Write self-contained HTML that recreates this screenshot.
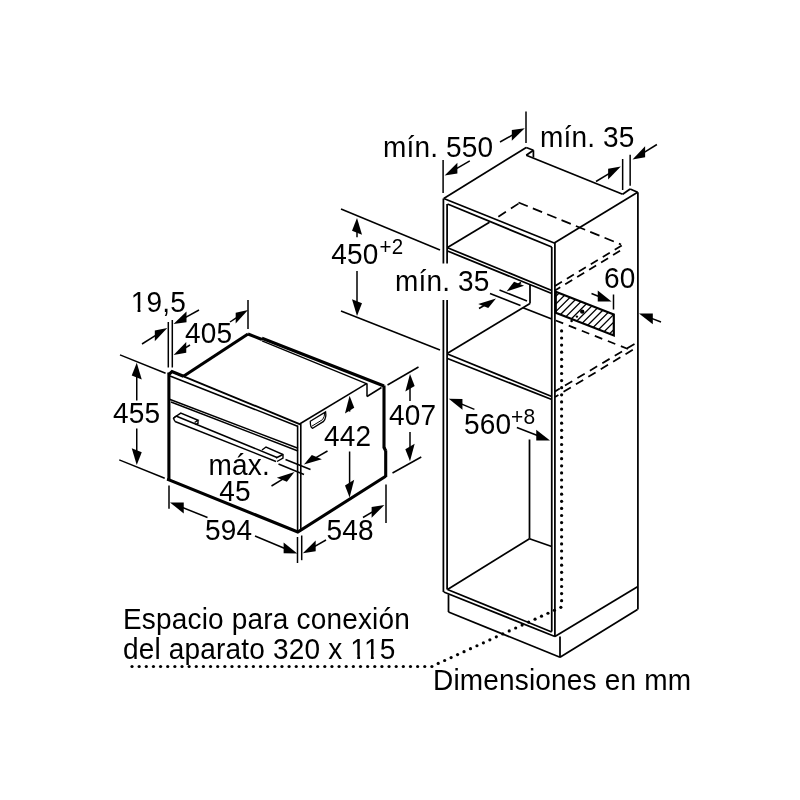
<!DOCTYPE html>
<html><head><meta charset="utf-8"><style>
html,body{margin:0;padding:0;background:#fff;width:800px;height:800px;overflow:hidden}
svg{position:absolute;left:0;top:0;will-change:transform}
text{font-family:"Liberation Sans",sans-serif;fill:#000;stroke:none;letter-spacing:0.18px}
</style></head><body>
<svg width="800" height="800" viewBox="0 0 800 800" stroke="#000" stroke-linecap="butt" fill="none">
<line x1="443.75" y1="198.5" x2="526.25" y2="147.5" stroke-width="1.75"/>
<line x1="526.25" y1="147.5" x2="533.4" y2="150.3" stroke-width="1.75"/>
<line x1="533.4" y1="150.3" x2="533.4" y2="157.5" stroke-width="1.75"/>
<line x1="533.4" y1="150.3" x2="526.25" y2="155.3" stroke-width="1.75"/>
<line x1="526.25" y1="155.3" x2="622.65" y2="194.2" stroke-width="1.75"/>
<line x1="622.65" y1="194.2" x2="630.15" y2="189" stroke-width="1.75"/>
<line x1="630.15" y1="189" x2="637.65" y2="192.3" stroke-width="1.75"/>
<line x1="554.25" y1="243" x2="637.65" y2="192.3" stroke-width="1.75"/>
<line x1="443.75" y1="198.5" x2="554.25" y2="243" stroke-width="1.75"/>
<line x1="443.4" y1="198.5" x2="443.4" y2="592" stroke-width="1.75"/>
<line x1="447.1" y1="204" x2="447.1" y2="589.5" stroke-width="1.75"/>
<line x1="447.5" y1="204" x2="551.75" y2="247" stroke-width="1.75"/>
<line x1="554.9" y1="243" x2="554.9" y2="636.5" stroke-width="1.75"/>
<line x1="551.75" y1="247" x2="551.75" y2="631.5" stroke-width="1.75"/>
<line x1="637.9" y1="192.3" x2="637.9" y2="609.5" stroke-width="1.75"/>
<line x1="447.5" y1="247.75" x2="551.75" y2="290.5" stroke-width="1.75"/>
<line x1="447.5" y1="251" x2="551.75" y2="293.5" stroke-width="1.75"/>
<line x1="447.5" y1="247.5" x2="489.5" y2="222.25" stroke-width="1.75"/>
<line x1="521" y1="202" x2="494" y2="219.5" stroke-width="1.75" stroke-dasharray="9 6" stroke-dashoffset="-3"/>
<line x1="518.5" y1="202.5" x2="621" y2="244.5" stroke-width="1.75" stroke-dasharray="10 5.5" stroke-dashoffset="0"/>
<line x1="621.75" y1="245.5" x2="555" y2="286" stroke-width="1.75" stroke-dasharray="8.2 5.8" stroke-dashoffset="0"/>
<line x1="621.75" y1="249.8" x2="555" y2="290.5" stroke-width="1.75" stroke-dasharray="8.2 5.8" stroke-dashoffset="-2"/>
<line x1="530" y1="284.7" x2="530" y2="303.5" stroke-width="1.75"/>
<line x1="530" y1="303.5" x2="447.5" y2="353.25" stroke-width="1.75"/>
<line x1="523" y1="307.8" x2="551.75" y2="319" stroke-width="1.75"/>
<line x1="555.75" y1="320.5" x2="628" y2="349" stroke-width="1.75" stroke-dasharray="8 6" stroke-dashoffset="0"/>
<line x1="634.5" y1="344" x2="555" y2="391.5" stroke-width="1.75" stroke-dasharray="8.5 6" stroke-dashoffset="0"/>
<line x1="634.5" y1="348.8" x2="555" y2="397" stroke-width="1.75" stroke-dasharray="8.5 6" stroke-dashoffset="-2"/>
<line x1="447.5" y1="354" x2="551.75" y2="396.5" stroke-width="1.75"/>
<line x1="447.5" y1="358.5" x2="551.75" y2="399.5" stroke-width="1.75"/>
<defs><clipPath id="hc"><path d="M555.75 291.75 L613.5 314.25 L613.5 335.25 L555.75 312.75 Z"/></clipPath></defs>
<path d="M454.0 345 L514.0 285 M461.6 345 L521.6 285 M469.2 345 L529.2 285 M476.8 345 L536.8 285 M484.4 345 L544.4 285 M492.0 345 L552.0 285 M499.6 345 L559.6 285 M507.2 345 L567.2 285 M514.8 345 L574.8 285 M522.4 345 L582.4 285 M530.0 345 L590.0 285 M537.6 345 L597.6 285 M545.2 345 L605.2 285 M552.8 345 L612.8 285 M560.4 345 L620.4 285 M568.0 345 L628.0 285 M575.6 345 L635.6 285 M583.2 345 L643.2 285 M590.8 345 L650.8 285 M598.4 345 L658.4 285 M606.0 345 L666.0 285 M613.6 345 L673.6 285 M621.2 345 L681.2 285 M628.8 345 L688.8 285 M636.4 345 L696.4 285 M644.0 345 L704.0 285 M651.6 345 L711.6 285 M659.2 345 L719.2 285 M666.8 345 L726.8 285 M674.4 345 L734.4 285 M682.0 345 L742.0 285 M689.6 345 L749.6 285 M697.2 345 L757.2 285 M704.8 345 L764.8 285 M712.4 345 L772.4 285 M720.0 345 L780.0 285 M727.6 345 L787.6 285 M735.2 345 L795.2 285 M742.8 345 L802.8 285 M750.4 345 L810.4 285 M758.0 345 L818.0 285 M765.6 345 L825.6 285 M773.2 345 L833.2 285 M780.8 345 L840.8 285 M788.4 345 L848.4 285 M796.0 345 L856.0 285 M803.5999999999999 345 L863.5999999999999 285 M811.2 345 L871.2 285 M818.8 345 L878.8 285 M826.4 345 L886.4 285 " clip-path="url(#hc)" fill="none" stroke-width="1.3"/>
<path d="M555.75 291.75 L613.8 314.5 L613.8 335.5 L555.75 312.75 Z" fill="none" stroke-width="2.2"/>
<circle cx="582.2" cy="311.6" r="2.2" fill="#000" stroke="none"/>
<circle cx="576.9" cy="316.6" r="1.2" fill="#000" stroke="none"/>
<circle cx="571.6" cy="321" r="1.3" fill="#000" stroke="none"/>
<line x1="529.5" y1="439.5" x2="529.5" y2="538.75" stroke-width="1.75"/>
<line x1="529.5" y1="538.75" x2="551.75" y2="546.5" stroke-width="1.75"/>
<line x1="529.5" y1="538.75" x2="447.5" y2="589.5" stroke-width="1.75"/>
<line x1="443.75" y1="592" x2="554.9" y2="636.5" stroke-width="1.75"/>
<line x1="447.5" y1="589.5" x2="551.75" y2="632" stroke-width="1.75"/>
<line x1="448.5" y1="594.5" x2="448.5" y2="612" stroke-width="1.75"/>
<line x1="448.5" y1="612" x2="560" y2="657.25" stroke-width="1.75"/>
<line x1="560" y1="636.5" x2="560" y2="657.25" stroke-width="1.75"/>
<line x1="554.9" y1="636.5" x2="637.5" y2="586.75" stroke-width="1.75"/>
<line x1="560" y1="657.25" x2="637.5" y2="609.5" stroke-width="1.75"/>
<circle cx="561.60" cy="330.90" r="1.6" fill="#000" stroke="none"/>
<circle cx="561.60" cy="338.00" r="1.6" fill="#000" stroke="none"/>
<circle cx="561.60" cy="345.10" r="1.6" fill="#000" stroke="none"/>
<circle cx="561.60" cy="352.20" r="1.6" fill="#000" stroke="none"/>
<circle cx="561.60" cy="359.30" r="1.6" fill="#000" stroke="none"/>
<circle cx="561.60" cy="366.40" r="1.6" fill="#000" stroke="none"/>
<circle cx="561.60" cy="373.50" r="1.6" fill="#000" stroke="none"/>
<circle cx="561.60" cy="380.60" r="1.6" fill="#000" stroke="none"/>
<circle cx="561.60" cy="387.70" r="1.6" fill="#000" stroke="none"/>
<circle cx="561.60" cy="394.80" r="1.6" fill="#000" stroke="none"/>
<circle cx="561.60" cy="401.90" r="1.6" fill="#000" stroke="none"/>
<circle cx="561.60" cy="409.00" r="1.6" fill="#000" stroke="none"/>
<circle cx="561.60" cy="416.10" r="1.6" fill="#000" stroke="none"/>
<circle cx="561.60" cy="423.20" r="1.6" fill="#000" stroke="none"/>
<circle cx="561.60" cy="430.30" r="1.6" fill="#000" stroke="none"/>
<circle cx="561.60" cy="437.40" r="1.6" fill="#000" stroke="none"/>
<circle cx="561.60" cy="444.50" r="1.6" fill="#000" stroke="none"/>
<circle cx="561.60" cy="451.60" r="1.6" fill="#000" stroke="none"/>
<circle cx="561.60" cy="458.70" r="1.6" fill="#000" stroke="none"/>
<circle cx="561.60" cy="465.80" r="1.6" fill="#000" stroke="none"/>
<circle cx="561.60" cy="472.90" r="1.6" fill="#000" stroke="none"/>
<circle cx="561.60" cy="480.00" r="1.6" fill="#000" stroke="none"/>
<circle cx="561.60" cy="487.10" r="1.6" fill="#000" stroke="none"/>
<circle cx="561.60" cy="494.20" r="1.6" fill="#000" stroke="none"/>
<circle cx="561.60" cy="501.30" r="1.6" fill="#000" stroke="none"/>
<circle cx="561.60" cy="508.40" r="1.6" fill="#000" stroke="none"/>
<circle cx="561.60" cy="515.50" r="1.6" fill="#000" stroke="none"/>
<circle cx="561.60" cy="522.60" r="1.6" fill="#000" stroke="none"/>
<circle cx="561.60" cy="529.70" r="1.6" fill="#000" stroke="none"/>
<circle cx="561.60" cy="536.80" r="1.6" fill="#000" stroke="none"/>
<circle cx="561.60" cy="543.90" r="1.6" fill="#000" stroke="none"/>
<circle cx="561.60" cy="551.00" r="1.6" fill="#000" stroke="none"/>
<circle cx="561.60" cy="558.10" r="1.6" fill="#000" stroke="none"/>
<circle cx="561.60" cy="565.20" r="1.6" fill="#000" stroke="none"/>
<circle cx="561.60" cy="572.30" r="1.6" fill="#000" stroke="none"/>
<circle cx="561.60" cy="579.40" r="1.6" fill="#000" stroke="none"/>
<circle cx="561.60" cy="586.50" r="1.6" fill="#000" stroke="none"/>
<circle cx="561.60" cy="593.60" r="1.6" fill="#000" stroke="none"/>
<circle cx="561.60" cy="600.70" r="1.6" fill="#000" stroke="none"/>
<circle cx="560.87" cy="607.33" r="1.6" fill="#000" stroke="none"/>
<circle cx="554.42" cy="610.29" r="1.6" fill="#000" stroke="none"/>
<circle cx="547.96" cy="613.24" r="1.6" fill="#000" stroke="none"/>
<circle cx="541.50" cy="616.19" r="1.6" fill="#000" stroke="none"/>
<circle cx="535.05" cy="619.15" r="1.6" fill="#000" stroke="none"/>
<circle cx="528.59" cy="622.10" r="1.6" fill="#000" stroke="none"/>
<circle cx="522.13" cy="625.06" r="1.6" fill="#000" stroke="none"/>
<circle cx="515.68" cy="628.01" r="1.6" fill="#000" stroke="none"/>
<circle cx="509.22" cy="630.96" r="1.6" fill="#000" stroke="none"/>
<circle cx="502.76" cy="633.92" r="1.6" fill="#000" stroke="none"/>
<circle cx="496.31" cy="636.87" r="1.6" fill="#000" stroke="none"/>
<circle cx="489.85" cy="639.82" r="1.6" fill="#000" stroke="none"/>
<circle cx="483.40" cy="642.78" r="1.6" fill="#000" stroke="none"/>
<circle cx="476.94" cy="645.73" r="1.6" fill="#000" stroke="none"/>
<circle cx="470.48" cy="648.69" r="1.6" fill="#000" stroke="none"/>
<circle cx="464.03" cy="651.64" r="1.6" fill="#000" stroke="none"/>
<circle cx="457.57" cy="654.59" r="1.6" fill="#000" stroke="none"/>
<circle cx="451.11" cy="657.55" r="1.6" fill="#000" stroke="none"/>
<circle cx="444.66" cy="660.50" r="1.6" fill="#000" stroke="none"/>
<circle cx="438.20" cy="663.45" r="1.6" fill="#000" stroke="none"/>
<circle cx="431.90" cy="666.50" r="1.6" fill="#000" stroke="none"/>
<circle cx="424.76" cy="666.50" r="1.6" fill="#000" stroke="none"/>
<circle cx="417.62" cy="666.50" r="1.6" fill="#000" stroke="none"/>
<circle cx="410.48" cy="666.50" r="1.6" fill="#000" stroke="none"/>
<circle cx="403.34" cy="666.50" r="1.6" fill="#000" stroke="none"/>
<circle cx="396.20" cy="666.50" r="1.6" fill="#000" stroke="none"/>
<circle cx="389.06" cy="666.50" r="1.6" fill="#000" stroke="none"/>
<circle cx="381.92" cy="666.50" r="1.6" fill="#000" stroke="none"/>
<circle cx="374.78" cy="666.50" r="1.6" fill="#000" stroke="none"/>
<circle cx="367.64" cy="666.50" r="1.6" fill="#000" stroke="none"/>
<circle cx="360.50" cy="666.50" r="1.6" fill="#000" stroke="none"/>
<circle cx="353.36" cy="666.50" r="1.6" fill="#000" stroke="none"/>
<circle cx="346.22" cy="666.50" r="1.6" fill="#000" stroke="none"/>
<circle cx="339.08" cy="666.50" r="1.6" fill="#000" stroke="none"/>
<circle cx="331.94" cy="666.50" r="1.6" fill="#000" stroke="none"/>
<circle cx="324.80" cy="666.50" r="1.6" fill="#000" stroke="none"/>
<circle cx="317.66" cy="666.50" r="1.6" fill="#000" stroke="none"/>
<circle cx="310.52" cy="666.50" r="1.6" fill="#000" stroke="none"/>
<circle cx="303.38" cy="666.50" r="1.6" fill="#000" stroke="none"/>
<circle cx="296.24" cy="666.50" r="1.6" fill="#000" stroke="none"/>
<circle cx="289.10" cy="666.50" r="1.6" fill="#000" stroke="none"/>
<circle cx="281.96" cy="666.50" r="1.6" fill="#000" stroke="none"/>
<circle cx="274.82" cy="666.50" r="1.6" fill="#000" stroke="none"/>
<circle cx="267.68" cy="666.50" r="1.6" fill="#000" stroke="none"/>
<circle cx="260.54" cy="666.50" r="1.6" fill="#000" stroke="none"/>
<circle cx="253.40" cy="666.50" r="1.6" fill="#000" stroke="none"/>
<circle cx="246.26" cy="666.50" r="1.6" fill="#000" stroke="none"/>
<circle cx="239.12" cy="666.50" r="1.6" fill="#000" stroke="none"/>
<circle cx="231.98" cy="666.50" r="1.6" fill="#000" stroke="none"/>
<circle cx="224.84" cy="666.50" r="1.6" fill="#000" stroke="none"/>
<circle cx="217.70" cy="666.50" r="1.6" fill="#000" stroke="none"/>
<circle cx="210.56" cy="666.50" r="1.6" fill="#000" stroke="none"/>
<circle cx="203.42" cy="666.50" r="1.6" fill="#000" stroke="none"/>
<circle cx="196.28" cy="666.50" r="1.6" fill="#000" stroke="none"/>
<circle cx="189.14" cy="666.50" r="1.6" fill="#000" stroke="none"/>
<circle cx="182.00" cy="666.50" r="1.6" fill="#000" stroke="none"/>
<circle cx="174.86" cy="666.50" r="1.6" fill="#000" stroke="none"/>
<circle cx="167.72" cy="666.50" r="1.6" fill="#000" stroke="none"/>
<circle cx="160.58" cy="666.50" r="1.6" fill="#000" stroke="none"/>
<circle cx="153.44" cy="666.50" r="1.6" fill="#000" stroke="none"/>
<circle cx="146.30" cy="666.50" r="1.6" fill="#000" stroke="none"/>
<circle cx="139.16" cy="666.50" r="1.6" fill="#000" stroke="none"/>
<circle cx="132.02" cy="666.50" r="1.6" fill="#000" stroke="none"/>
<line x1="168.9" y1="372.5" x2="168.9" y2="480.5" stroke-width="3.1"/>
<path d="M168.9 478.5 L168.5 479.7 L297.8 532 L385.7 476.3" fill="none" stroke-width="3.1"/>
<line x1="297.6" y1="425.5" x2="297.6" y2="531" stroke-width="1.6"/>
<line x1="300.8" y1="424" x2="300.8" y2="530.5" stroke-width="1.6"/>
<line x1="172" y1="371.6" x2="300.8" y2="424.6" stroke-width="1.8"/>
<path d="M168.5 374.8 L172 371.6 L183.5 376.3" fill="none" stroke-width="3.1"/>
<line x1="170" y1="376" x2="297.6" y2="426.2" stroke-width="1.5"/>
<line x1="169.5" y1="399.3" x2="298" y2="448.3" stroke-width="1.5"/>
<line x1="171" y1="402" x2="298" y2="451" stroke-width="1.5"/>
<path d="M176 416 L277 457.5" fill="none" stroke-width="1.4"/>
<path d="M175 421.5 L276 461.5" fill="none" stroke-width="1.4"/>
<path d="M176 416 L173.5 418.5 L175 421.5" fill="none" stroke-width="1.4"/>
<path d="M173.5 418 L180.75 413.1 L198 420.25 L194.6 422.5" fill="none" stroke-width="1.4"/>
<path d="M198 420.25 L198 423.25 L195.5 424.6" fill="none" stroke-width="1.4"/>
<path d="M262 450 L266 447 L283 454.5 L283 458 L277 461.5" fill="none" stroke-width="1.4"/>
<line x1="276" y1="458" x2="283" y2="454.5" stroke-width="1.4"/>
<line x1="183.5" y1="376.3" x2="248" y2="334" stroke-width="3.1"/>
<line x1="248" y1="334" x2="262" y2="339.5" stroke-width="3.1"/>
<line x1="262" y1="338.3" x2="384" y2="386" stroke-width="3.1"/>
<line x1="262" y1="340.8" x2="367" y2="383.8" stroke-width="1.3"/>
<line x1="367" y1="383.6" x2="367" y2="396.5" stroke-width="1.5"/>
<line x1="367" y1="396.5" x2="381.5" y2="387.5" stroke-width="1.5"/>
<line x1="299.6" y1="424" x2="367" y2="383.4" stroke-width="1.5"/>
<line x1="384" y1="385.5" x2="384" y2="448.2" stroke-width="3.1"/>
<line x1="384" y1="447.5" x2="385.7" y2="450.8" stroke-width="3.1"/>
<line x1="385.7" y1="450.3" x2="385.7" y2="477" stroke-width="3.1"/>
<path d="M310.3 421.3 L325.6 411.9 Q326.6 418 323.6 421.4 L312.6 428.4 Q310.2 427.5 310.3 421.3 Z" fill="none" stroke-width="1.3"/>
<path d="M311.8 426.2 L322.6 419.6 Q324.8 416.5 324.6 413" fill="none" stroke-width="1"/>
<line x1="168.3" y1="322" x2="168.3" y2="367.5" stroke-width="1.5"/>
<line x1="172.3" y1="320" x2="172.3" y2="367.5" stroke-width="1.5"/>
<line x1="142" y1="344" x2="156.48180823810503" y2="334.8415441972458" stroke-width="1.5"/>
<path d="M167.30 328.00 L154.79 341.31 L154.79 330.51 Z" fill="#000" stroke="none"/>
<line x1="199" y1="310" x2="184.7202054499788" y2="317.8398872039332" stroke-width="1.5"/>
<path d="M173.50 324.00 L186.47 322.28 L186.47 311.48 Z" fill="#000" stroke="none"/>
<line x1="190" y1="345" x2="184.52859105016367" y2="348.3362249694124" stroke-width="1.5"/>
<path d="M173.60 355.00 L186.24 352.70 L186.24 341.90 Z" fill="#000" stroke="none"/>
<line x1="230" y1="322" x2="237.3497562324756" y2="317.1001625116829" stroke-width="1.5"/>
<path d="M248.00 310.00 L235.69 323.61 L235.69 312.81 Z" fill="#000" stroke="none"/>
<line x1="248" y1="300" x2="248" y2="329" stroke-width="1.5"/>
<g transform="translate(130.7 312) scale(1 1.06)"><text x="0" y="0" font-size="28" text-anchor="start">19,5</text><rect x="1.40" y="-3.3" width="5.50" height="4" fill="#fff" stroke="none"/><rect x="9.75" y="-3.3" width="5.40" height="4" fill="#fff" stroke="none"/></g>
<g transform="translate(185 343) scale(1 1.06)"><text x="0" y="0" font-size="28" text-anchor="start">405</text></g>
<line x1="120" y1="354.9" x2="165.6" y2="373.25" stroke-width="1.5"/>
<line x1="119.25" y1="459.9" x2="164.75" y2="478.25" stroke-width="1.5"/>
<line x1="136.75" y1="400.4" x2="136.75" y2="375.55" stroke-width="1.5"/>
<path d="M136.75 362.75 L141.76 379.56 L131.74 375.54 Z" fill="#000" stroke="none"/>
<line x1="136.75" y1="428.4" x2="136.75" y2="452.3" stroke-width="1.5"/>
<path d="M136.75 465.10 L141.76 452.31 L131.74 448.29 Z" fill="#000" stroke="none"/>
<g transform="translate(113 423.3) scale(1 1.06)"><text x="0" y="0" font-size="28" text-anchor="start">455</text></g>
<line x1="349.6" y1="411.6" x2="349.6" y2="408.6" stroke-width="1.5"/>
<path d="M349.60 395.80 L354.23 407.82 L344.97 413.38 Z" fill="#000" stroke="none"/>
<line x1="349.6" y1="451.5" x2="349.6" y2="484.7" stroke-width="1.5"/>
<path d="M349.60 497.50 L354.20 479.86 L345.00 485.54 Z" fill="#000" stroke="none"/>
<g transform="translate(324 445.5) scale(1 1.06)"><text x="0" y="0" font-size="28" text-anchor="start">442</text></g>
<line x1="387.5" y1="385" x2="418.5" y2="367" stroke-width="1.5"/>
<line x1="392.5" y1="473" x2="421.25" y2="457" stroke-width="1.5"/>
<line x1="410" y1="401" x2="410.0" y2="386.8" stroke-width="1.5"/>
<path d="M410.00 374.00 L414.67 386.09 L405.33 391.51 Z" fill="#000" stroke="none"/>
<line x1="410" y1="432" x2="410.0" y2="448.45" stroke-width="1.5"/>
<path d="M410.00 461.25 L414.67 443.74 L405.33 449.16 Z" fill="#000" stroke="none"/>
<g transform="translate(389 425.3) scale(1 1.06)"><text x="0" y="0" font-size="28" text-anchor="start">407</text></g>
<line x1="285.5" y1="459.5" x2="310.5" y2="469.5" stroke-width="1.5"/>
<line x1="278.5" y1="464" x2="304" y2="474.5" stroke-width="1.5"/>
<line x1="327.5" y1="451" x2="315.0989509436258" y2="458.12400690472555" stroke-width="1.5"/>
<path d="M304.00 464.50 L321.85 459.13 L311.82 455.12 Z" fill="#000" stroke="none"/>
<line x1="271.5" y1="486" x2="283.5662584881352" y2="478.6553209202655" stroke-width="1.5"/>
<path d="M294.50 472.00 L286.87 481.70 L276.84 477.69 Z" fill="#000" stroke="none"/>
<g transform="translate(208.5 474.5) scale(1 1.06)"><text x="0" y="0" font-size="28" text-anchor="start">máx.</text></g>
<g transform="translate(219.3 501.3) scale(1 1.06)"><text x="0" y="0" font-size="28" text-anchor="start">45</text></g>
<line x1="169" y1="485.5" x2="169" y2="508.75" stroke-width="1.5"/>
<line x1="207.5" y1="517.5" x2="181.8845016433313" y2="507.25380065733253" stroke-width="1.5"/>
<path d="M170.00 502.50 L183.74 513.40 L183.74 502.60 Z" fill="#000" stroke="none"/>
<line x1="255" y1="536" x2="285.4821371606573" y2="548.6828750361127" stroke-width="1.5"/>
<path d="M297.30 553.60 L283.64 553.31 L283.64 542.51 Z" fill="#000" stroke="none"/>
<g transform="translate(205 540.3) scale(1 1.06)"><text x="0" y="0" font-size="28" text-anchor="start">594</text></g>
<line x1="297.5" y1="537" x2="297.5" y2="563" stroke-width="1.5"/>
<line x1="301.7" y1="535.5" x2="301.7" y2="560.2" stroke-width="1.5"/>
<line x1="326" y1="540" x2="313.9252970499078" y2="546.8700896095353" stroke-width="1.5"/>
<path d="M302.80 553.20 L315.66 551.28 L315.66 540.48 Z" fill="#000" stroke="none"/>
<line x1="363" y1="517.5" x2="373.3473784038461" y2="511.45597055850106" stroke-width="1.5"/>
<path d="M384.40 505.00 L371.62 517.86 L371.62 507.06 Z" fill="#000" stroke="none"/>
<line x1="386" y1="484.4" x2="386" y2="523" stroke-width="1.5"/>
<g transform="translate(326.5 540.3) scale(1 1.06)"><text x="0" y="0" font-size="28" text-anchor="start">548</text></g>
<line x1="443.1" y1="160" x2="443.1" y2="193" stroke-width="1.5"/>
<line x1="469.8" y1="160.8" x2="455.6372590143237" y2="169.11780026142895" stroke-width="1.5"/>
<path d="M444.60 175.60 L457.36 173.50 L457.36 162.70 Z" fill="#000" stroke="none"/>
<line x1="500" y1="142" x2="513.5607868656443" y2="134.46622951908648" stroke-width="1.5"/>
<path d="M524.75 128.25 L511.81 140.84 L511.81 130.04 Z" fill="#000" stroke="none"/>
<line x1="526" y1="111.4" x2="526" y2="142.9" stroke-width="1.5"/>
<g transform="translate(383 157) scale(1 1.06)"><text x="0" y="0" font-size="28" text-anchor="start">mín. 550</text></g>
<line x1="622.65" y1="159" x2="622.65" y2="190" stroke-width="1.5"/>
<line x1="630.15" y1="154.8" x2="630.15" y2="185.8" stroke-width="1.5"/>
<line x1="596" y1="181.5" x2="609.8475402118659" y2="173.12447164604885" stroke-width="1.5"/>
<path d="M620.80 166.50 L608.14 179.56 L608.14 168.76 Z" fill="#000" stroke="none"/>
<line x1="656.9" y1="144.5" x2="643.4042941358531" y2="152.79654049025424" stroke-width="1.5"/>
<path d="M632.50 159.50 L645.11 157.15 L645.11 146.35 Z" fill="#000" stroke="none"/>
<g transform="translate(540 146.5) scale(1 1.06)"><text x="0" y="0" font-size="28" text-anchor="start">mín. 35</text></g>
<line x1="341" y1="209" x2="440" y2="250" stroke-width="1.5"/>
<line x1="341" y1="311" x2="440" y2="350" stroke-width="1.5"/>
<line x1="357" y1="237.3" x2="357.0" y2="230.8" stroke-width="1.5"/>
<path d="M357.00 218.00 L362.00 234.85 L352.00 230.75 Z" fill="#000" stroke="none"/>
<line x1="357" y1="271" x2="357.0" y2="303.2" stroke-width="1.5"/>
<path d="M357.00 316.00 L362.00 303.25 L352.00 299.15 Z" fill="#000" stroke="none"/>
<g transform="translate(331.3 263.8) scale(1 1.06)"><text x="0" y="0" font-size="28" text-anchor="start">450</text></g>
<g transform="translate(379.5 253.6) scale(1 1.06)"><text x="0" y="0" font-size="20.5" text-anchor="start">+2</text></g>
<rect x="438" y="263.5" width="14" height="36.5" fill="#fff" stroke="none"/>
<g transform="translate(395 291.2) scale(1 1.06)"><text x="0" y="0" font-size="28" text-anchor="start">mín. 35</text></g>
<line x1="499.5" y1="290" x2="527" y2="301" stroke-width="1.5"/>
<line x1="490" y1="293.5" x2="520.5" y2="305.5" stroke-width="1.5"/>
<line x1="521" y1="282.5" x2="517.3753941273359" y2="284.7497553692397" stroke-width="1.5"/>
<path d="M506.50 291.50 L524.09 285.70 L514.06 281.69 Z" fill="#000" stroke="none"/>
<line x1="479" y1="308.5" x2="484.9672420459805" y2="304.98985762001143" stroke-width="1.5"/>
<path d="M496.00 298.50 L488.26 308.01 L478.23 304.00 Z" fill="#000" stroke="none"/>
<g transform="translate(604 287.7) scale(1 1.06)"><text x="0" y="0" font-size="28" text-anchor="start">60</text></g>
<line x1="591.5" y1="293.5" x2="599.6154983566687" y2="296.74619934266747" stroke-width="1.5"/>
<path d="M611.50 301.50 L597.76 301.40 L597.76 290.60 Z" fill="#000" stroke="none"/>
<line x1="613.5" y1="294.5" x2="613.5" y2="309.5" stroke-width="1.5"/>
<line x1="661" y1="322" x2="650.9398161203917" y2="318.11311077378764" stroke-width="1.5"/>
<path d="M639.00 313.50 L652.81 324.23 L652.81 313.43 Z" fill="#000" stroke="none"/>
<line x1="474.4" y1="409.4" x2="460.57151138310576" y2="403.6583468315819" stroke-width="1.5"/>
<path d="M448.75 398.75 L462.42 409.83 L462.42 399.03 Z" fill="#000" stroke="none"/>
<g transform="translate(464 433.8) scale(1 1.06)"><text x="0" y="0" font-size="28" text-anchor="start">560</text></g>
<g transform="translate(511 423.8) scale(1 1.06)"><text x="0" y="0" font-size="21" text-anchor="start">+8</text></g>
<line x1="516.9" y1="427.5" x2="538.0859434383166" y2="435.820763283931" stroke-width="1.5"/>
<path d="M550.00 440.50 L536.22 440.49 L536.22 429.69 Z" fill="#000" stroke="none"/>
<g transform="translate(123 629) scale(1 1.06)"><text x="0" y="0" font-size="28" text-anchor="start">Espacio para conexión</text></g>
<g transform="translate(123 658.5) scale(1 1.06)"><text x="0" y="0" font-size="28" text-anchor="start">del aparato 320 x 115</text><rect x="228.73" y="-3.3" width="5.50" height="4" fill="#fff" stroke="none"/><rect x="237.08" y="-3.3" width="5.40" height="4" fill="#fff" stroke="none"/><rect x="242.39" y="-3.3" width="5.50" height="4" fill="#fff" stroke="none"/><rect x="250.74" y="-3.3" width="5.40" height="4" fill="#fff" stroke="none"/></g>
<g transform="translate(433 689.5) scale(1 1.06)"><text x="0" y="0" font-size="28" text-anchor="start">Dimensiones en mm</text></g>
</svg></body></html>
